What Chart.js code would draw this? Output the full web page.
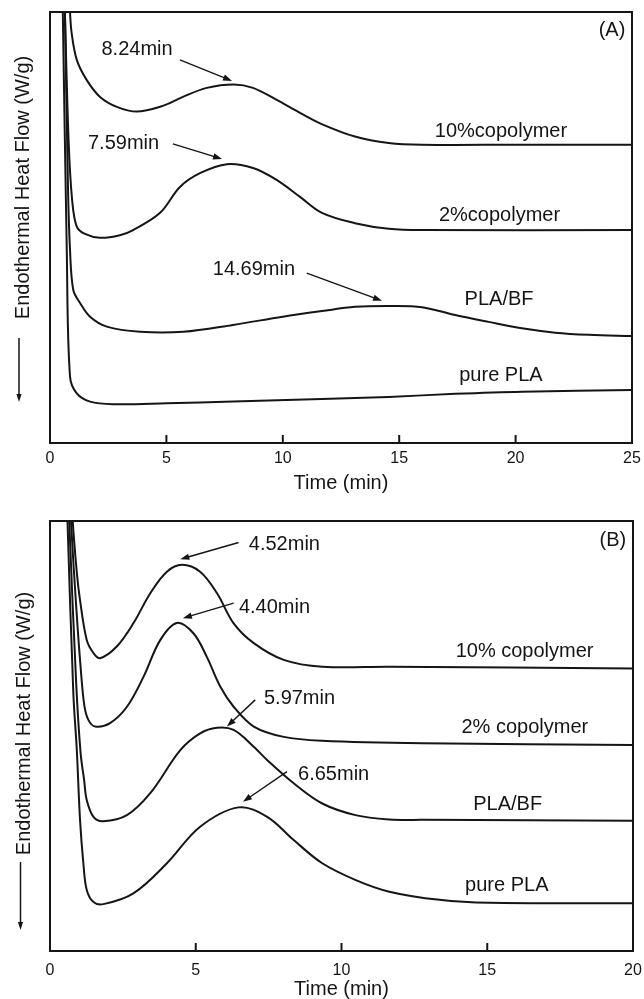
<!DOCTYPE html>
<html><head><meta charset="utf-8">
<script src="https://cdn.jsdelivr.net/npm/chart.js@4.4.1/dist/chart.umd.min.js"></script>
<style>
html,body{margin:0;padding:0;background:#fff;}
#wrap{position:relative;width:644px;height:999px;}
.pane{position:absolute;left:0;width:644px;}
#pa{top:0;height:500px}
#pb{top:500px;height:499px}
</style></head><body>
<div id="wrap"><div class="pane" id="pa"><canvas id="cA"></canvas></div><div class="pane" id="pb"><canvas id="cB"></canvas></div></div>
<script>
/* ── data: [time (min), heat flow (arb. units, 0–100 = plot height)] ── */
const ticksA=[0,5,10,15,20,25];
const namesA=['10%copolymer','2%copolymer','PLA/BF','pure PLA'];
const peaksA=['8.24min','7.59min','14.69min'];
const a10=[[0.75,112],[0.86,100],[0.93,95.1],[1.15,88.9],[1.58,84.2],[2.15,80.3],[2.87,78.0],[3.72,76.9],[4.73,78.0],[5.71,80.3],[6.73,82.4],[7.9,83.2],[8.72,82.4],[9.74,79.6],[10.74,76.6],[11.67,74.0],[13.1,71.1],[14.55,69.6],[16.0,69.2],[20,69.2],[25,69.2]];
const a2=[[0.58,112],[0.64,100],[0.8,70],[0.95,56.4],[1.15,50.2],[1.5,48.5],[2.15,47.6],[3.0,48.2],[3.57,49.4],[4.73,53.4],[5.58,59.4],[6.44,62.6],[7.6,64.7],[8.72,63.8],[9.75,61.0],[10.74,57.1],[11.68,53.4],[13.1,51.0],[14.56,49.7],[16.0,49.4],[25,49.4]];
const aBF=[[0.58,112],[0.64,100],[0.77,60],[0.86,44.8],[1.0,35.5],[1.29,32.5],[1.72,29.3],[2.44,27.0],[3.87,25.8],[5.73,25.8],[7.86,27.4],[10.0,29.3],[11.68,30.6],[13.1,31.6],[14.7,31.8],[15.98,31.5],[17.4,29.7],[18.84,28.1],[20.27,26.6],[21.7,25.6],[23.14,25.1],[25,24.8]];
const aPLA=[[0.5,112],[0.55,100],[0.72,44.8],[0.86,15.4],[1.15,11.5],[1.72,9.6],[2.72,9.0],[5.01,9.2],[7.87,9.6],[11.67,10.2],[14.55,10.7],[17.41,11.4],[20.27,11.9],[25,12.3]];

const ticksB=[0,5,10,15,20];
const namesB=['10% copolymer','2% copolymer','PLA/BF','pure PLA'];
const peaksB=['4.52min','4.40min','5.97min','6.65min'];
const b10=[[0.7,112],[0.78,100],[0.92,88],[1.03,81.6],[1.26,72.3],[1.49,69.3],[1.72,68.1],[2.29,70.8],[2.86,76.2],[3.44,83.2],[4.01,88.2],[4.53,89.8],[5.15,88.2],[5.73,83.2],[6.3,76.2],[6.99,71.6],[8.02,67.7],[9.34,66.1],[11.64,66.1],[20,65.7]];
const b2=[[0.65,112],[0.72,100],[0.9,80],[1.05,66],[1.18,57],[1.32,53.7],[1.55,52.2],[2.06,53.0],[2.64,56.8],[3.21,63.8],[3.78,72.3],[4.35,76.3],[4.92,73.9],[5.38,68.4],[5.84,61.5],[6.3,56.8],[6.99,52.2],[8.02,49.8],[9.34,48.9],[12.78,48.3],[20,47.9]];
const bBF=[[0.6,112],[0.66,100],[0.9,62],[1.05,46],[1.17,39.8],[1.26,35.1],[1.49,31.2],[1.83,30.2],[2.64,31.6],[3.44,36.7],[4.47,46.7],[5.15,50.6],[5.73,51.9],[6.3,51.4],[6.99,47.5],[7.45,44.4],[8.36,39.0],[9.34,34.3],[10.48,31.6],[11.64,30.6],[12.78,30.5],[20,30.3]];
const bPLA=[[0.55,112],[0.6,100],[0.8,60],[0.92,46.7],[1.03,30.5],[1.15,20],[1.26,14.2],[1.49,11.4],[1.83,10.9],[2.86,13.4],[4.01,20.4],[5.15,28.9],[6.47,33.4],[7.45,31.2],[8.36,25.8],[9.34,20.4],[10.49,16.5],[11.64,13.8],[13.36,11.9],[15.08,11.2],[20,11.1]];

/* ── helpers ── */
const FONT="'Liberation Sans',Arial,Helvetica,sans-serif";
const INK='#151515';
function arrowTo(ctx,x1,y1,x2,y2,len,half){
  const ang=Math.atan2(y2-y1,x2-x1);
  ctx.beginPath();ctx.moveTo(x1,y1);ctx.lineTo(x2-Math.cos(ang)*len*0.6,y2-Math.sin(ang)*len*0.6);ctx.stroke();
  ctx.beginPath();ctx.moveTo(x2,y2);
  ctx.lineTo(x2-Math.cos(ang)*len+Math.sin(ang)*half,y2-Math.sin(ang)*len-Math.cos(ang)*half);
  ctx.lineTo(x2-Math.cos(ang)*len-Math.sin(ang)*half,y2-Math.sin(ang)*len+Math.cos(ang)*half);
  ctx.closePath();ctx.fill();
}
// frame, inward ticks, curve names, peak call-outs, y title with arrow
const deco={id:'deco',afterDatasetsDraw(chart,args,o){
  const {ctx,chartArea:a,scales:{x,y}}=chart;
  ctx.save();
  ctx.strokeStyle=INK;ctx.fillStyle=INK;ctx.lineWidth=2;
  ctx.strokeRect(a.left,a.top,a.right-a.left,a.bottom-a.top);
  x.ticks.forEach(t=>{const px=x.getPixelForValue(t.value);ctx.beginPath();ctx.moveTo(px,a.bottom);ctx.lineTo(px,a.bottom-8);ctx.stroke();});
  ctx.font='20px '+FONT;ctx.textAlign='center';ctx.textBaseline='alphabetic';
  o.names.forEach((s,i)=>ctx.fillText(s,x.getPixelForValue(o.nameAt[i][0]),y.getPixelForValue(o.nameAt[i][1])));
  o.peaks.forEach((s,i)=>ctx.fillText(s,x.getPixelForValue(o.peakAt[i][0]),y.getPixelForValue(o.peakAt[i][1])));
  ctx.fillText(o.tag,x.getPixelForValue(o.tagAt[0]),y.getPixelForValue(o.tagAt[1]));
  ctx.lineWidth=1.4;
  o.arrows.forEach(r=>arrowTo(ctx,x.getPixelForValue(r[0]),y.getPixelForValue(r[1]),x.getPixelForValue(r[2]),y.getPixelForValue(r[3]),9,3.2));
  // y title
  ctx.save();ctx.translate(o.yTitleX,o.yTitleY);ctx.rotate(-Math.PI/2);
  ctx.textAlign='center';ctx.fillText('Endothermal Heat Flow (W/g)',0,0);ctx.restore();
  ctx.lineWidth=1.5;
  arrowTo(ctx,o.yArrowX,o.yArrow[0],o.yArrowX,o.yArrow[1],8,2.6);
  ctx.restore();
}};
function panel(id,series,names,xmax,xticks,opt){
  return new Chart(document.getElementById(id),{type:'line',
    data:{datasets:series.map((s,i)=>({label:names[i],data:s.map(p=>({x:p[0],y:p[1]})),borderColor:INK,borderWidth:2,pointRadius:0,tension:0.35,fill:false}))},
    options:{responsive:true,maintainAspectRatio:false,animation:false,
      layout:{padding:{left:50,right:opt.right,top:opt.top,bottom:0}},
      plugins:{legend:{display:false},tooltip:{enabled:false},deco:opt.deco},
      scales:{
        x:{type:'linear',min:0,max:xmax,afterBuildTicks:s=>{s.ticks=xticks.map(v=>({value:v}));},
          // invisible tick marks just push the labels down (keeps right overhang small)
          grid:{display:true,drawOnChartArea:false,drawTicks:true,tickLength:opt.tickGap,color:'rgba(0,0,0,0)'},border:{display:false},
          ticks:{color:INK,font:{family:FONT,size:16},padding:0,maxRotation:0,autoSkip:false},
          title:{display:true,text:'Time (min)',color:INK,font:{family:FONT,size:20,lineHeight:1},padding:{top:0,bottom:opt.titlePad}},
          afterFit:s=>{s.height=opt.axisH;}},
        y:{display:false,min:0,max:100}
      }},plugins:[deco]});
}
panel('cA',[a10,a2,aBF,aPLA],namesA,25,ticksA,{right:12,top:12,axisH:57,tickGap:6,titlePad:7,deco:{
  names:namesA,nameAt:[[19.37,71.1],[19.31,51.5],[19.29,32.0],[19.37,14.4]],
  peaks:peaksA,peakAt:[[3.74,90.0],[3.16,68.2],[8.76,39.0]],
  arrows:[[5.58,88.9,7.82,84.0],[5.28,69.4,7.39,65.9],[11.03,39.4,14.26,33.0]],
  tag:'(A)',tagAt:[24.14,94.4],yTitleX:28.5,yTitleY:187.5,yArrowX:19,yArrow:[338,402]}});
panel('cB',[b10,b2,bBF,bPLA],namesB,20,ticksB,{right:11,top:21,axisH:48,tickGap:10,titlePad:0,deco:{
  names:namesB,nameAt:[[16.28,68.3],[16.29,50.6],[15.70,32.8],[15.67,14.0]],
  peaks:peaksB,peakAt:[[8.04,93.3],[7.70,78.6],[8.56,57.4],[9.73,39.8]],
  arrows:[[6.47,95.0,4.47,91.1],[6.30,80.9,4.56,77.4],[7.04,58.4,6.07,52.2],[8.13,41.7,6.62,34.7]],
  tag:'(B)',tagAt:[19.31,94.2],yTitleX:30,yTitleY:223.5,yArrowX:20.5,yArrow:[362,430]}});
</script>
</body></html>
